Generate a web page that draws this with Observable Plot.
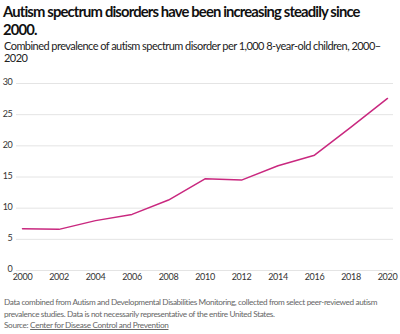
<!DOCTYPE html>
<html>
<head>
<meta charset="utf-8">
<script src="https://cdn.jsdelivr.net/npm/d3@7"></script>
<script src="https://cdn.jsdelivr.net/npm/@observablehq/plot@0.6"></script>
<style>
  html, body { margin: 0; padding: 0; background: #fff; }
  body { width: 400px; height: 334px; overflow: hidden; font-family: Lato, "Open Sans", sans-serif; }
  #wrap { position: relative; width: 400px; height: 334px; }
  h1 { position: absolute; left: 3px; top: 2px; margin: 0; font-size: 14.8px; line-height: 18px; font-weight: 700; color: #111; letter-spacing: -0.85px; white-space: nowrap; }
  .sub { position: absolute; left: 4px; top: 40px; margin: 0; font-size: 11px; line-height: 12px; color: #222; letter-spacing: -0.55px; white-space: nowrap; }
  #chart { position: absolute; left: 0; top: 73px; }
  .note { position: absolute; left: 4px; top: 296px; margin: 0; font-size: 8.2px; line-height: 12px; color: #666; letter-spacing: -0.37px; white-space: nowrap; }
  .src { position: absolute; left: 4px; top: 320px; margin: 0; font-size: 8.2px; line-height: 11px; color: #666; letter-spacing: -0.33px; white-space: nowrap; }
  .src a { color: #666; text-decoration: underline; }
</style>
</head>
<body>
<div id="wrap">
  <h1>Autism spectrum disorders have been increasing steadily since<br>2000.</h1>
  <p class="sub">Combined prevalence of autism spectrum disorder per 1,000 8-year-old children, 2000–<br>2020</p>
  <div id="chart"></div>
  <p class="note">Data combined from Autism and Developmental Disabilities Monitoring, collected from select peer-reviewed autism<br>prevalence studies. Data is not necessarily representative of the entire United States.</p>
  <p class="src">Source: <a>Center for Disease Control and Prevention</a></p>
</div>
<script>
const years = [2000, 2002, 2004, 2006, 2008, 2010, 2012, 2014, 2016, 2018, 2020];
const prevalence = [6.7, 6.6, 8.0, 9.0, 11.3, 14.7, 14.5, 16.8, 18.5, 23.0, 27.6];
const yTicks = [0, 5, 10, 15, 20, 25, 30];
const xTicks = [2000, 2002, 2004, 2006, 2008, 2010, 2012, 2014, 2016, 2018, 2020];

const data = years.map((y, i) => ({year: y, value: prevalence[i]}));

const chart = Plot.plot({
  width: 400,
  height: 217,
  marginTop: 10,
  marginBottom: 20,
  marginLeft: 16,
  marginRight: 7,
  style: {fontFamily: "Lato, 'Open Sans', sans-serif", fontSize: "9px", letterSpacing: "-0.3px", color: "#333", background: "transparent"},
  x: {domain: [2000, 2020], inset: 6, label: null},
  y: {domain: [0, 30], label: null},
  marks: [
    Plot.gridY(yTicks, {stroke: "#e4e4e4", strokeOpacity: 1, strokeWidth: 1}),
    Plot.axisY(yTicks, {tickSize: 0, tickPadding: 4, label: null, fill: "#333", dy: -1}),
    Plot.axisX(xTicks, {tickSize: 0, tickPadding: 3, label: null, tickFormat: d => String(d), fill: "#333"}),
    Plot.line(data, {x: "year", y: "value", stroke: "#c9287f", strokeWidth: 1.5})
  ]
});
document.getElementById("chart").appendChild(chart);
</script>
</body>
</html>
